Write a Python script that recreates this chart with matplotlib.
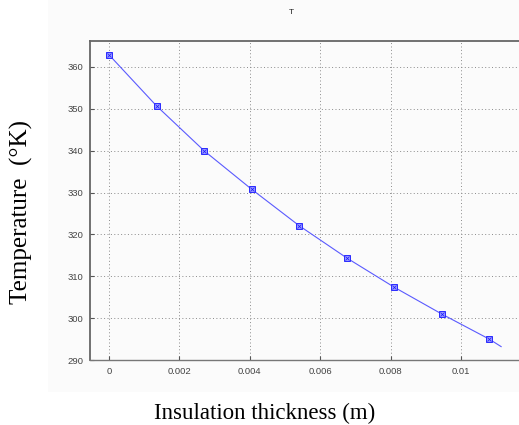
import matplotlib
matplotlib.use("Agg")
import matplotlib.pyplot as plt
from matplotlib.patches import Rectangle

# Data
thickness = [0, 0.00135, 0.0027, 0.00405, 0.0054, 0.00675, 0.0081, 0.00945, 0.0108]
temperature = [362.9, 350.7, 340.0, 330.8, 322.1, 314.4, 307.4, 301.0, 295.0]
line_end_thickness = 0.01114
line_end_temperature = 293.2
xticks = [0, 0.002, 0.004, 0.006, 0.008, 0.01]
xtick_labels = ["0", "0.002", "0.004", "0.006", "0.008", "0.01"]
yticks = [290, 300, 310, 320, 330, 340, 350, 360]

W, H = 519, 425
fig = plt.figure(figsize=(W / 100, H / 100), dpi=100)
fig.patch.set_facecolor("white")

# subtle off-white panel behind the plot
bg = Rectangle((48 / W, 1 - 392 / H), 1 - 48 / W, 392 / H,
               transform=fig.transFigure, facecolor="#fbfbfb",
               edgecolor="none", zorder=-10)
fig.patches.append(bg)

left, right_px, top_px, bottom_px = 90, 525, 41, 360
ax = fig.add_axes([left / W, 1 - bottom_px / H, (right_px - left) / W, (bottom_px - top_px) / H])
ax.set_zorder(5)
ax.set_facecolor("none")

px_per_unit = 35200.0
ax.set_xlim((left - 109) / px_per_unit, (right_px - 109) / px_per_unit)
ax.set_ylim(290, 366.2)

line_x = thickness + [line_end_thickness]
line_y = temperature + [line_end_temperature]
ax.plot(line_x, line_y, color="#5a5aff", lw=0.8, zorder=3)
ax.plot(thickness, temperature, linestyle="none", marker="s", ms=3.8,
        mfc="#9a9aff", mec="#2a2aff", mew=0.7, zorder=4)
ax.plot(thickness, temperature, linestyle="none", marker="x", ms=2.4,
        mec="#1a1aff", mew=0.5, zorder=5)

ax.set_xticks(xticks)
ax.set_xticklabels(xtick_labels)
ax.set_yticks(yticks)
ax.tick_params(direction="in", length=3, width=0.8, color="#555555",
               labelsize=6.8, labelcolor="#444444", pad=5)
for lab in ax.get_xticklabels() + ax.get_yticklabels():
    lab.set_family("Liberation Sans")

ax.grid(True, color="#8a8a8a", linestyle=(0, (1, 2.5)), linewidth=0.7)

for s in ["left", "top"]:
    ax.spines[s].set_color("#666666")
    ax.spines[s].set_linewidth(1.3)
ax.spines["bottom"].set_color("#777777")
ax.spines["bottom"].set_linewidth(1.0)
ax.spines["right"].set_visible(False)

fig.text(291 / W, 1 - 13 / H, "T", ha="center", va="center", fontsize=6,
         family="Liberation Sans", color="#222222")
fig.text(265 / W, 1 - 413 / H, "Insulation thickness (m)", ha="center", va="center",
         fontsize=16.5, family="Liberation Serif", color="black")
fig.text(21 / W, 1 - 212 / H, "Temperature  (°K)", ha="center", va="center",
         rotation=90, fontsize=18, family="Liberation Serif", color="black")

fig.savefig("out.png", dpi=100)
